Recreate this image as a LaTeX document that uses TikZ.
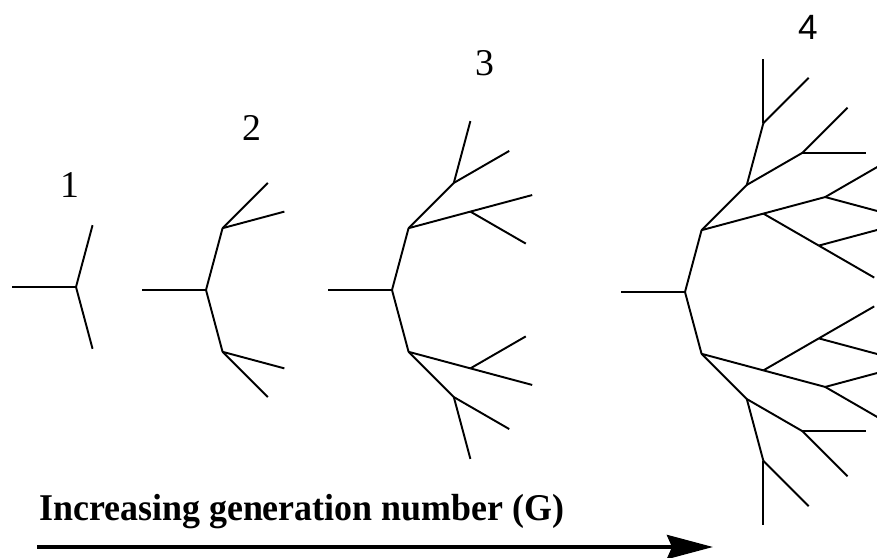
\documentclass[tikz,border=0pt]{standalone}
\usepackage{fontspec}
\setmainfont{Liberation Serif}
\newfontfamily\labelsans{Liberation Sans}
\usepackage{tikz}
\usetikzlibrary{arrows.meta}
\tikzset{
  twig/.style={black, line width=1.1pt},
  genlabel/.style={inner sep=0pt, font=\fontsize{21.5}{24}\selectfont},
  axisarrow/.style={black, line width=2.3pt, -{Stealth[length=9.2mm, width=4.8mm, inset=1mm]}}
}
% one half of a branching tree, grown from the origin up to generation #1
\newcommand\halftree[1]{%
  \draw[twig] (0,0) -- (75:64) coordinate (a);
  \ifnum#1>1
    \draw[twig] (a) -- ++(45:64) coordinate (b);
    \draw[twig] (a) -- ++(15:64) coordinate (c);
  \fi
  \ifnum#1>2
    \draw[twig] (b) -- ++(75:64) coordinate (d);
    \draw[twig] (b) -- ++(30:64) coordinate (e);
    \draw[twig] (c) -- ++(15:64) coordinate (f);
    \draw[twig] (c) -- ++(-30:64) coordinate (g);
  \fi
  \ifnum#1>3
    \draw[twig] (d) -- ++(90:64);
    \draw[twig] (d) -- ++(45:64);
    \draw[twig] (e) -- ++(45:64);
    \draw[twig] (e) -- ++(0:64);
    \draw[twig] (f) -- ++(30:64);
    \draw[twig] (f) -- ++(-15:64);
    \draw[twig] (g) -- ++(15:64);
    \draw[twig] (g) -- ++(-30:64);
  \fi
}

\begin{document}
\begin{tikzpicture}[x=0.2mm, y=0.2mm]
\useasboundingbox (0,0) rectangle (877,558);
\clip (0,0) rectangle (877,558);

% roots of the four trees
\coordinate (r1) at (76,271);
\coordinate (r2) at (206,268);
\coordinate (r3) at (392,268);
\coordinate (r4) at (685,266);

\foreach \n/\g in {1/1, 2/2, 3/3, 4/4} {
  \draw[twig] (r\n) -- ++(-64,0);
  \foreach \s in {1,-1} {
    \begin{scope}[shift={(r\n)}, yscale=\s]
      \halftree{\g}
    \end{scope}
  }
}

% generation labels
\node[genlabel] (g1) at (70,373) {1};
\node[genlabel] (g2) at (252,430) {2};
\node[genlabel] (g3) at (485,495) {3};
\node[genlabel, font=\labelsans\fontsize{20}{24}\selectfont] (g4) at (808,531) {4};

\node[anchor=base west, inner sep=0pt, xscale=0.95, font=\bfseries\fontsize{21.5}{24}\selectfont]
  (caption) at (39,37) {Increasing generation number (G)};
\coordinate (from) at (37,11);
\coordinate (to) at (713,11);
\draw[axisarrow] (from) -- (to);
\end{tikzpicture}
\end{document}
